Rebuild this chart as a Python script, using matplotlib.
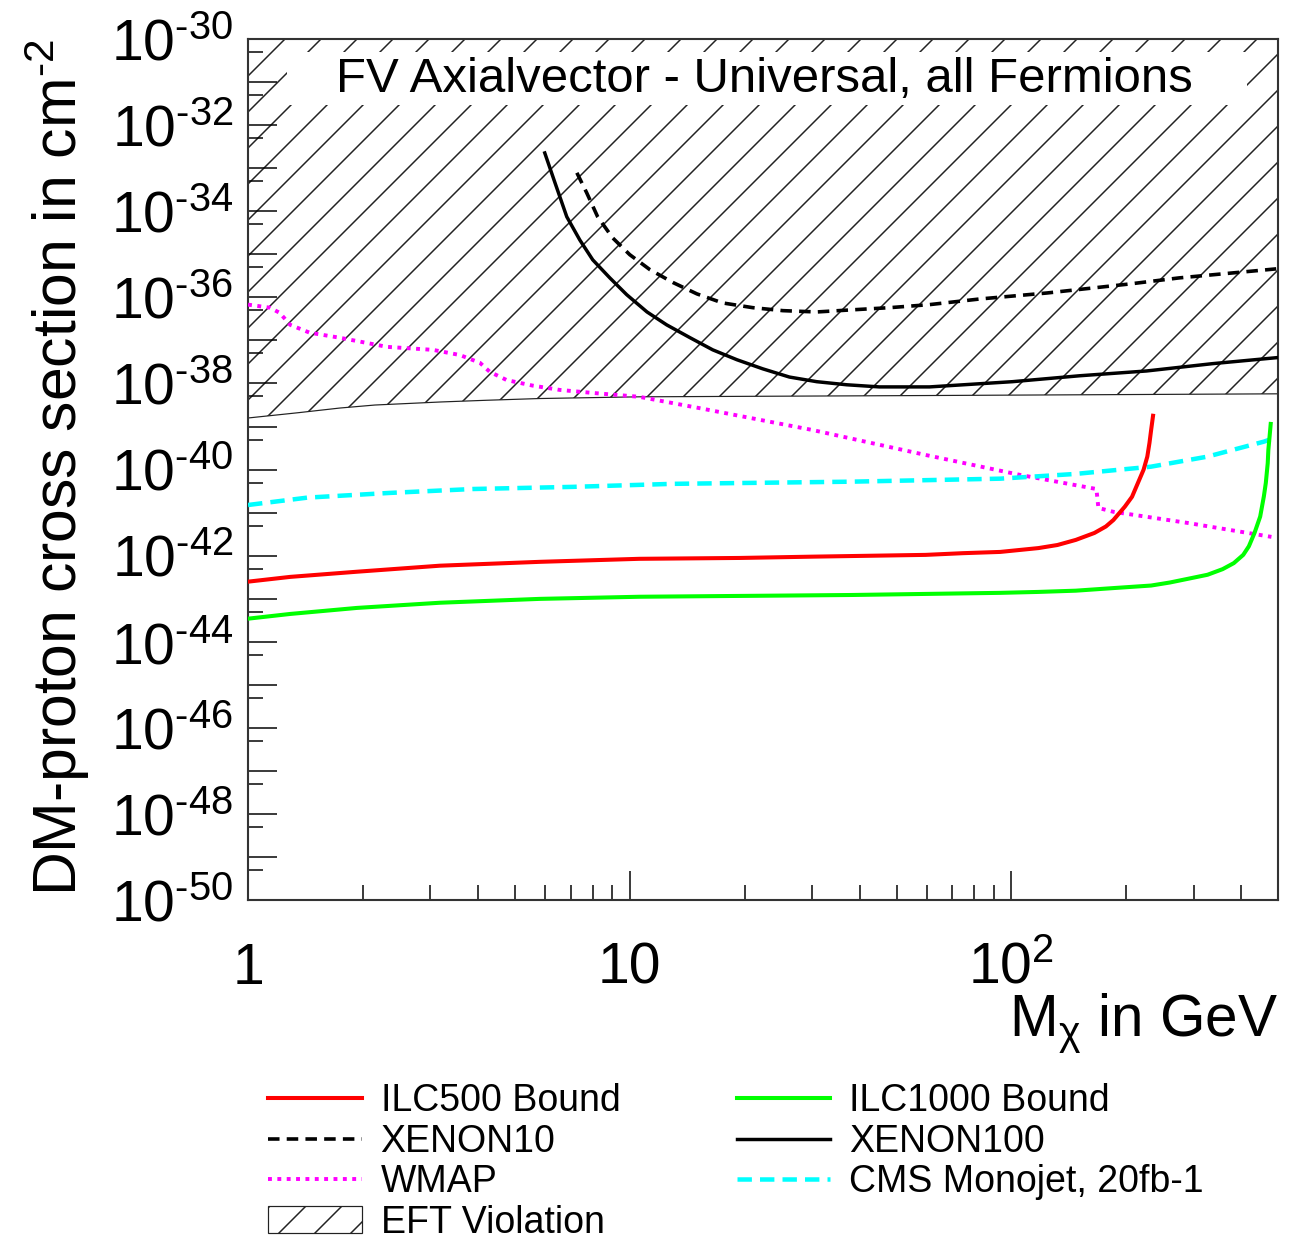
import numpy as np
import matplotlib.pyplot as plt
from matplotlib.patches import Rectangle
from matplotlib.ticker import FixedLocator, FuncFormatter, NullFormatter

plt.rcParams['font.family'] = ['Liberation Sans', 'DejaVu Sans']
plt.rcParams['mathtext.fontset'] = 'custom'
plt.rcParams['mathtext.rm'] = 'Liberation Sans'
plt.rcParams['mathtext.it'] = 'Liberation Sans:italic'
plt.rcParams['mathtext.bf'] = 'Liberation Sans:bold'
plt.rcParams['hatch.linewidth'] = 0.5

# Daten (Masse in GeV, Wirkungsquerschnitt in cm^2)
eft_mass = [1.0, 1.35, 1.74, 2.15, 3.2, 4.2, 5.8, 10.6, 61, 500]
eft_xsec = [1.58e-39, 2.09e-39, 2.69e-39, 3.16e-39, 3.72e-39, 4.07e-39,
            4.47e-39, 4.90e-39, 5.25e-39, 5.75e-39]

xenon100_mass = [5.99, 6.37, 6.84, 7.40, 8.00, 8.87, 9.82, 11.1, 12.5, 14.4,
                 16.5, 19.1, 22.3, 26.2, 30.9, 37.0, 45.1, 61.0, 100.6, 151,
                 226, 336, 497]
xenon100_xsec = [2.24e-33, 4.57e-34, 7.41e-35, 2.14e-35, 7.41e-36, 2.82e-36,
                 1.15e-36, 4.57e-37, 2.29e-37, 1.15e-37, 6.03e-38, 3.55e-38,
                 2.19e-38, 1.41e-38, 1.10e-38, 9.33e-39, 8.32e-39, 8.32e-39,
                 1.10e-38, 1.51e-38, 1.95e-38, 2.88e-38, 3.98e-38]

xenon10_mass = [7.27, 7.71, 8.24, 9.02, 10.0, 11.3, 13.0, 15.0, 17.5, 21.0,
                25.2, 30.9, 38.4, 48.0, 61.0, 82.4, 124, 204, 275, 494]
xenon10_xsec = [7.76e-34, 2.69e-34, 7.41e-35, 2.40e-35, 9.77e-36, 4.37e-36,
                2.19e-36, 1.20e-36, 7.41e-37, 5.75e-37, 4.90e-37, 4.57e-37,
                5.13e-37, 5.75e-37, 6.76e-37, 9.12e-37, 1.26e-36, 2.04e-36,
                2.82e-36, 4.57e-36]

wmap_mass = [1.0, 1.14, 1.21, 1.29, 1.45, 1.74, 2.05, 2.31, 3.05, 3.59, 4.05,
             4.30, 4.76, 5.57, 6.56, 8.0, 10.6, 15.6, 30.1, 59.6, 105, 167,
             169, 185, 291, 480]
wmap_xsec = [6.76e-37, 5.75e-37, 4.37e-37, 2.29e-37, 1.51e-37, 1.15e-37,
             8.71e-38, 7.08e-38, 6.03e-38, 4.57e-38, 3.02e-38, 1.86e-38,
             1.20e-38, 8.91e-39, 7.08e-39, 6.03e-39, 4.90e-39, 2.57e-39,
             8.32e-40, 2.19e-40, 7.59e-41, 3.55e-41, 1.29e-41, 1.05e-41,
             5.75e-42, 2.75e-42]

cms_mass = [1.0, 1.43, 2.35, 3.88, 7.09, 13.0, 37.9, 93.5, 147, 232, 326,
            459, 497]
cms_xsec = [1.51e-41, 2.24e-41, 2.88e-41, 3.55e-41, 3.98e-41, 4.68e-41,
            5.25e-41, 6.17e-41, 7.94e-41, 1.17e-40, 2.00e-40, 4.47e-40,
            5.75e-40]

ilc500_mass = [1.0, 1.29, 1.93, 3.18, 5.81, 10.6, 19.4, 30.1, 59.6, 74.6,
               93.5, 117.7, 132, 147.5, 165, 176.8, 185, 198.2, 207, 214.5,
               222, 227, 230, 232.3, 235]
ilc500_xsec = [2.51e-43, 3.24e-43, 4.27e-43, 5.89e-43, 7.24e-43, 8.51e-43,
               8.91e-43, 9.55e-43, 1.05e-42, 1.15e-42, 1.23e-42, 1.51e-42,
               1.78e-42, 2.34e-42, 3.39e-42, 4.79e-42, 6.76e-42, 1.38e-41,
               2.34e-41, 4.90e-41, 1.0e-40, 2.0e-40, 4.17e-40, 8.3e-40,
               1.78e-39]

ilc1000_mass = [1.0, 1.29, 1.93, 3.18, 5.81, 10.6, 37.9, 93.5, 117.6, 147.5,
                184.9, 232.3, 260.2, 291.5, 326.5, 357.6, 382.5, 404.9,
                418.9, 433.4, 448.5, 458.6, 464, 469.4, 471.2, 474.7, 477.9]
ilc1000_xsec = [3.47e-44, 4.47e-44, 6.17e-44, 8.13e-44, 1.0e-43, 1.12e-43,
                1.23e-43, 1.38e-43, 1.45e-43, 1.55e-43, 1.78e-43, 2.04e-43,
                2.40e-43, 2.95e-43, 3.63e-43, 4.90e-43, 6.76e-43, 1.05e-42,
                1.66e-42, 3.39e-42, 8.13e-42, 2.40e-41, 4.90e-41, 1.41e-40,
                2.88e-40, 5.89e-40, 1.15e-39]

x_major = [1, 10, 100]
x_labels = {1: '1', 10: '10', 100: r'$\mathdefault{10^{2}}$'}
x_minor = [2, 3, 4, 5, 6, 7, 8, 9, 20, 30, 40, 50, 60, 70, 80, 90,
           200, 300, 400, 500]
y_exp = list(range(-50, -29))

title = 'FV Axialvector - Universal, all Fermions'

fig = plt.figure(figsize=(1296.2 / 216, 1243.2 / 216), dpi=216)
ax = fig.add_axes([0.19136, 0.27554, 0.79475, 0.69308])

eft = ax.fill_between(eft_mass, eft_xsec, 1e-30, facecolor='none',
                      edgecolor='#222222', hatch='//', linewidth=0.4,
                      label='EFT Violation', zorder=1)

# weisser Kasten hinter dem Titel
ax.add_patch(Rectangle((0.038, 0.923), 0.932, 0.062, transform=ax.transAxes,
                       facecolor='white', edgecolor='none', zorder=2))
ax.text(0.501, 0.9385, title, transform=ax.transAxes, ha='center',
        va='baseline', fontsize=16.4, zorder=3)

l_x100, = ax.plot(xenon100_mass, xenon100_xsec, color='black', lw=1.15,
                  label='XENON100', zorder=4)
l_x10, = ax.plot(xenon10_mass, xenon10_xsec, color='black', lw=1.2,
                 dashes=(3.2, 2), label='XENON10', zorder=4)
l_wmap, = ax.plot(wmap_mass, wmap_xsec, color='#ff00ff', lw=1.3,
                  dashes=(1, 1.4), label='WMAP', zorder=4)
l_cms, = ax.plot(cms_mass, cms_xsec, color='#00ffff', lw=1.5,
                 dashes=(3.2, 1.8), label='CMS Monojet, 20fb-1', zorder=4)
l_500, = ax.plot(ilc500_mass, ilc500_xsec, color='#ff0000', lw=1.35,
                 label='ILC500 Bound', zorder=4)
l_1000, = ax.plot(ilc1000_mass, ilc1000_xsec, color='#00ff00', lw=1.35,
                  label='ILC1000 Bound', zorder=4)

ax.set_xscale('log')
ax.set_yscale('log')
ax.set_xlim(1, 500)
ax.set_ylim(1e-50, 1e-30)

ax.xaxis.set_major_locator(FixedLocator(x_major))
ax.xaxis.set_minor_locator(FixedLocator(x_minor))
ax.xaxis.set_major_formatter(FuncFormatter(lambda v, p: x_labels.get(int(round(v)), '')))
ax.xaxis.set_minor_formatter(NullFormatter())

ax.yaxis.set_major_locator(FixedLocator([10.0 ** e for e in y_exp]))
ax.yaxis.set_minor_locator(FixedLocator([5 * 10.0 ** (e - 1) for e in y_exp]))


def ylab(v, p):
    e = int(round(np.log10(v)))
    if e % 2:
        return ''
    return r'$\mathdefault{10^{\text{-}%d}}$' % (-e)


ax.yaxis.set_major_formatter(FuncFormatter(ylab))
ax.yaxis.set_minor_formatter(NullFormatter())

ax.tick_params(which='both', direction='in', top=False, right=False,
               width=0.5, color='black')
ax.tick_params(which='major', length=9.7)
ax.tick_params(which='minor', length=5)
ax.tick_params(axis='y', which='major', labelsize=19, pad=5)
ax.tick_params(axis='x', which='major', labelsize=19, pad=27.7)
for t in ax.xaxis.get_major_ticks():
    t.label1.set_va('baseline')

for s in ax.spines.values():
    s.set_linewidth(0.7)
    s.set_color('#333333')

ax.set_xlabel(r'M$_{\mathregular{\chi}}$ in GeV', fontsize=19.5)
ax.xaxis.set_label_coords(1.0, -0.157)
ax.xaxis.label.set(ha='right', va='baseline')

ax.set_ylabel(r'DM-proton cross section in cm$^{\text{-}2}$', fontsize=20.2)
ax.yaxis.set_label_coords(-0.166, 1.0)
ax.yaxis.label.set(ha='right', va='baseline', rotation_mode='anchor')

fig.legend(handles=[l_500, l_x10, l_wmap, eft, l_1000, l_x100, l_cms],
           ncol=2, loc='upper left', bbox_to_anchor=(0.2068, 0.1285),
           frameon=False, fontsize=12.5, handlelength=2.5, handleheight=0.7,
           handletextpad=0.5, columnspacing=3.1, labelspacing=0.12,
           borderpad=0, borderaxespad=0)

fig.savefig('out.png', dpi=216)
